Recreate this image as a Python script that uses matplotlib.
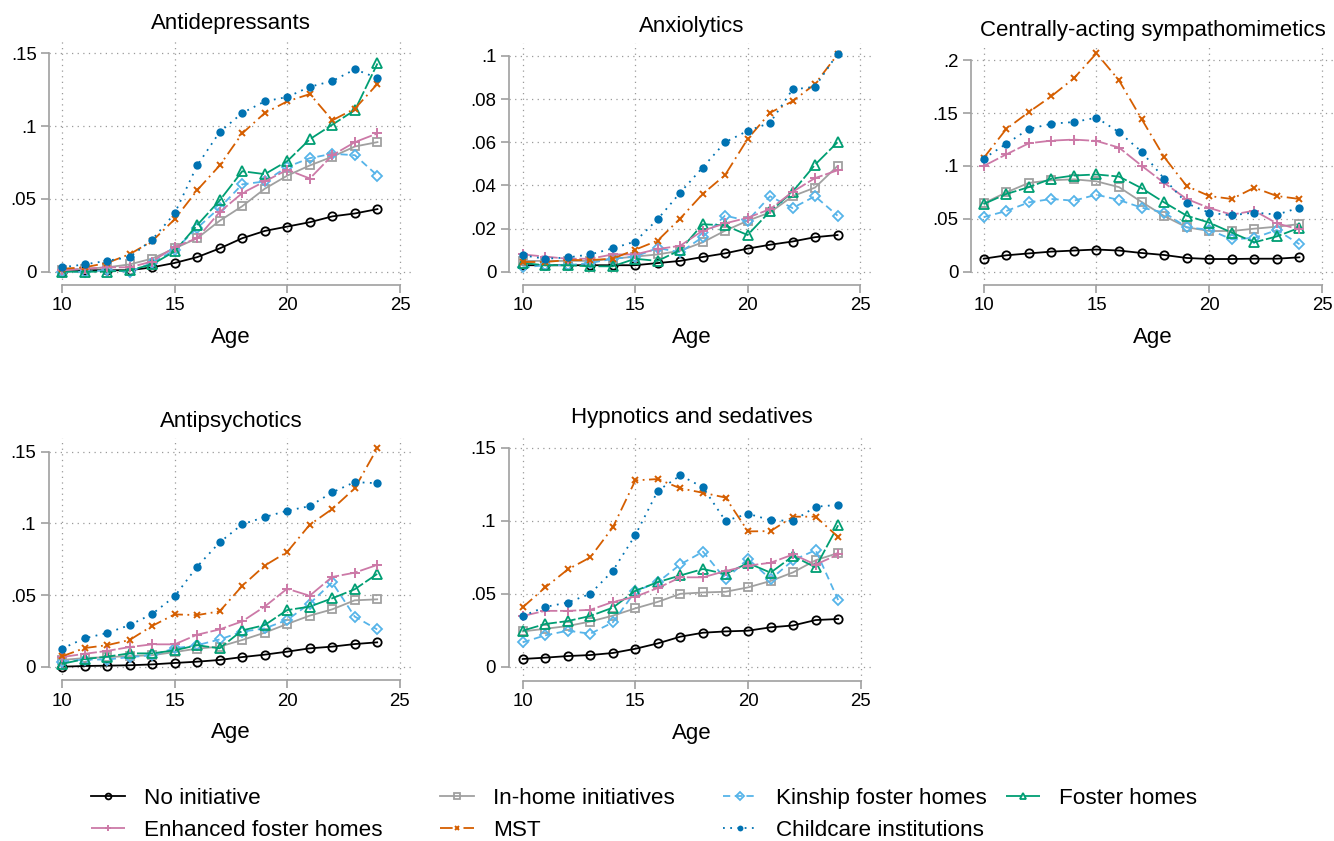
import matplotlib
matplotlib.use("Agg")
import matplotlib.pyplot as plt
from matplotlib.lines import Line2D

plt.rcParams['font.family'] = ['Liberation Sans', 'DejaVu Sans']

ages = [10, 11, 12, 13, 14, 15, 16, 17, 18, 19, 20, 21, 22, 23, 24]

groups = ["No initiative", "In-home initiatives", "Kinship foster homes", "Foster homes",
          "Enhanced foster homes", "MST", "Childcare institutions"]

# Antidepressants
ad_none = [0.000, 0.001, 0.001, 0.001, 0.003, 0.006, 0.010, 0.016, 0.023, 0.028, 0.031, 0.034, 0.038, 0.040, 0.043]
ad_inhome = [0.001, 0.002, 0.003, 0.005, 0.009, 0.016, 0.023, 0.035, 0.045, 0.057, 0.066, 0.073, 0.079, 0.086, 0.089]
ad_kinship = [0.000, 0.000, 0.001, 0.000, 0.006, 0.015, 0.030, 0.044, 0.060, 0.062, 0.072, 0.078, 0.081, 0.080, 0.066]
ad_foster = [0.000, 0.000, 0.000, 0.001, 0.005, 0.014, 0.032, 0.049, 0.069, 0.067, 0.076, 0.091, 0.101, 0.111, 0.143]
ad_enhanced = [0.001, 0.002, 0.003, 0.003, 0.007, 0.017, 0.023, 0.041, 0.054, 0.062, 0.070, 0.064, 0.080, 0.089, 0.095]
ad_mst = [0.002, 0.003, 0.006, 0.012, 0.021, 0.036, 0.056, 0.073, 0.095, 0.109, 0.117, 0.122, 0.104, 0.112, 0.129]
ad_childcare = [0.003, 0.005, 0.0075, 0.010, 0.022, 0.040, 0.073, 0.096, 0.109, 0.117, 0.120, 0.127, 0.131, 0.139, 0.133]

# Anxiolytics
ax_none = [0.003, 0.003, 0.003, 0.003, 0.003, 0.003, 0.004, 0.005, 0.0068, 0.0085, 0.0107, 0.0125, 0.014, 0.016, 0.017]
ax_inhome = [0.005, 0.005, 0.005, 0.005, 0.006, 0.007, 0.008, 0.0097, 0.0136, 0.019, 0.0236, 0.0275, 0.035, 0.039, 0.049]
ax_kinship = [0.002, 0.003, 0.003, 0.004, 0.006, 0.007, 0.011, 0.009, 0.016, 0.026, 0.0236, 0.035, 0.0295, 0.035, 0.026]
ax_foster = [0.004, 0.003, 0.003, 0.0025, 0.0025, 0.006, 0.005, 0.010, 0.022, 0.0215, 0.017, 0.028, 0.037, 0.0496, 0.060]
ax_enhanced = [0.008, 0.007, 0.006, 0.006, 0.008, 0.008, 0.0105, 0.012, 0.019, 0.0224, 0.025, 0.029, 0.037, 0.0434, 0.047]
ax_mst = [0.0045, 0.0045, 0.0054, 0.0054, 0.006, 0.0102, 0.0144, 0.0246, 0.036, 0.0448, 0.0615, 0.0737, 0.079, 0.087, 0.1007]
ax_childcare = [0.0076, 0.006, 0.0066, 0.008, 0.0108, 0.014, 0.0243, 0.0366, 0.0483, 0.060, 0.0653, 0.069, 0.0845, 0.0857, 0.101]

# Centrally-acting sympathomimetics
cs_none = [0.0123, 0.0155, 0.0173, 0.019, 0.020, 0.021, 0.020, 0.0177, 0.0158, 0.013, 0.012, 0.012, 0.0123, 0.0123, 0.0136]
cs_inhome = [0.0647, 0.075, 0.084, 0.0865, 0.0874, 0.0855, 0.080, 0.066, 0.0527, 0.042, 0.0385, 0.0385, 0.0407, 0.0426, 0.045]
cs_kinship = [0.0517, 0.0574, 0.0656, 0.0688, 0.0672, 0.0729, 0.0678, 0.0606, 0.056, 0.042, 0.0397, 0.0306, 0.032, 0.0394, 0.026]
cs_foster = [0.064, 0.0735, 0.080, 0.088, 0.091, 0.092, 0.090, 0.079, 0.0656, 0.053, 0.0464, 0.037, 0.0278, 0.0334, 0.0416]
cs_enhanced = [0.100, 0.111, 0.1215, 0.124, 0.125, 0.1237, 0.1174, 0.1003, 0.084, 0.0688, 0.0603, 0.054, 0.0577, 0.0457, 0.040]
cs_mst = [0.1076, 0.135, 0.151, 0.166, 0.183, 0.2066, 0.181, 0.1445, 0.1085, 0.081, 0.0716, 0.0688, 0.0795, 0.0716, 0.0688]
cs_childcare = [0.107, 0.121, 0.135, 0.140, 0.1416, 0.1457, 0.132, 0.1136, 0.088, 0.0647, 0.0558, 0.0533, 0.056, 0.054, 0.0606]

# Antipsychotics
ap_none = [0.000, 0.0005, 0.0007, 0.001, 0.0016, 0.0026, 0.0035, 0.0047, 0.0067, 0.0084, 0.0105, 0.0128, 0.014, 0.0158, 0.017]
ap_inhome = [0.0047, 0.006, 0.0067, 0.0074, 0.008, 0.0102, 0.0126, 0.014, 0.0186, 0.0237, 0.0298, 0.0356, 0.040, 0.0463, 0.047]
ap_kinship = [0.0035, 0.005, 0.005, 0.0067, 0.008, 0.0128, 0.015, 0.019, 0.0244, 0.0267, 0.0326, 0.044, 0.0588, 0.035, 0.026]
ap_foster = [0.002, 0.0053, 0.007, 0.0093, 0.0093, 0.0114, 0.015, 0.0128, 0.0253, 0.029, 0.0395, 0.0419, 0.0477, 0.054, 0.0647]
ap_enhanced = [0.0067, 0.009, 0.011, 0.0137, 0.0156, 0.0156, 0.0223, 0.026, 0.0316, 0.0419, 0.0544, 0.0495, 0.0626, 0.0656, 0.071]
ap_mst = [0.0072, 0.013, 0.015, 0.0186, 0.0284, 0.0365, 0.036, 0.0386, 0.0563, 0.0705, 0.080, 0.099, 0.110, 0.1244, 0.1523]
ap_childcare = [0.0126, 0.0198, 0.0235, 0.029, 0.0367, 0.049, 0.0698, 0.0867, 0.0993, 0.1044, 0.1088, 0.112, 0.1216, 0.1288, 0.128]

# Hypnotics and sedatives
hs_none = [0.0053, 0.0062, 0.0073, 0.008, 0.0094, 0.0123, 0.016, 0.0206, 0.0233, 0.0242, 0.0247, 0.027, 0.0283, 0.032, 0.0327]
hs_inhome = [0.0242, 0.026, 0.0279, 0.031, 0.035, 0.040, 0.0445, 0.050, 0.0509, 0.0514, 0.0544, 0.0588, 0.0647, 0.073, 0.078]
hs_kinship = [0.0167, 0.0215, 0.0247, 0.0226, 0.0304, 0.0517, 0.058, 0.0702, 0.0789, 0.060, 0.074, 0.060, 0.073, 0.080, 0.0457]
hs_foster = [0.0247, 0.0293, 0.0313, 0.0348, 0.0405, 0.0521, 0.058, 0.0626, 0.067, 0.0636, 0.0711, 0.0645, 0.0759, 0.0681, 0.097]
hs_enhanced = [0.0348, 0.0383, 0.0383, 0.039, 0.0444, 0.048, 0.054, 0.0613, 0.0613, 0.0656, 0.0693, 0.0713, 0.077, 0.070, 0.077]
hs_mst = [0.0407, 0.0544, 0.0667, 0.075, 0.0956, 0.1278, 0.1287, 0.1223, 0.1193, 0.116, 0.0928, 0.093, 0.1029, 0.1029, 0.089]
hs_childcare = [0.0348, 0.041, 0.044, 0.050, 0.0658, 0.0903, 0.1207, 0.1312, 0.123, 0.100, 0.1049, 0.1005, 0.100, 0.1097, 0.111]

titles = ["Antidepressants", "Anxiolytics", "Centrally-acting sympathomimetics",
          "Antipsychotics", "Hypnotics and sedatives"]
yticks_list = [[0, 0.05, 0.1, 0.15], [0, 0.02, 0.04, 0.06, 0.08, 0.1],
               [0, 0.05, 0.1, 0.15, 0.2], [0, 0.05, 0.1, 0.15], [0, 0.05, 0.1, 0.15]]
ytick_labels = [["0", ".05", ".1", ".15"], ["0", ".02", ".04", ".06", ".08", ".1"],
                ["0", ".05", ".1", ".15", ".2"], ["0", ".05", ".1", ".15"], ["0", ".05", ".1", ".15"]]

panel_data = [
    [ad_none, ad_inhome, ad_kinship, ad_foster, ad_enhanced, ad_mst, ad_childcare],
    [ax_none, ax_inhome, ax_kinship, ax_foster, ax_enhanced, ax_mst, ax_childcare],
    [cs_none, cs_inhome, cs_kinship, cs_foster, cs_enhanced, cs_mst, cs_childcare],
    [ap_none, ap_inhome, ap_kinship, ap_foster, ap_enhanced, ap_mst, ap_childcare],
    [hs_none, hs_inhome, hs_kinship, hs_foster, hs_enhanced, hs_mst, hs_childcare],
]

# line / marker look for each group
styles = [
    dict(color="black", ls="-", marker="o", ms=6, mfc="none", mew=1.3),
    dict(color="#A0A0A0", ls="-", marker="s", ms=6, mfc="none", mew=1.3),
    dict(color="#56B4E9", ls=(0, (4, 2.5)), marker="D", ms=5.5, mfc="none", mew=1.3),
    dict(color="#009E73", ls=(0, (9, 1.5)), marker="^", ms=7, mfc="none", mew=1.3),
    dict(color="#CC79A7", ls=(0, (9, 1.5)), marker="+", ms=7, mew=1.4),
    dict(color="#D55E00", ls=(0, (7, 2.5, 1, 2.5)), marker="x", ms=4.5, mew=1.4),
    dict(color="#0072B2", ls=(0, (1, 3)), marker="o", ms=6, mew=0),
]

W, H = 1334, 841
fig = plt.figure(figsize=(W / 100, H / 100), dpi=100)

# pixel layout of each panel: y-spine x, x of age 10, x of age 25, x-spine y, y of 0, y of top tick
layout = [
    (49, 62, 400, 285, 271.7, 53.3),
    (509, 522.7, 860, 285, 271.7, 56),
    (971, 983.7, 1322, 285, 271.7, 60.3),
    (48.5, 62, 399.7, 680, 666.7, 451.7),
    (508.5, 522.7, 860.7, 680.5, 666.7, 448),
]

gray = "#A0A0A0"
for k in range(5):
    x_sp, x10, x25, y_sp, y0, ytop = layout[k]
    ymax = yticks_list[k][-1]
    gx = x10 - x_sp
    gy = y_sp - y0
    left, right = x_sp, x25 + gx
    bottom, top = y_sp, ytop - gy
    ax = fig.add_axes([left / W, 1 - bottom / H, (right - left) / W, (bottom - top) / H])
    xpad = gx / (x25 - x10) * 15
    ypad = gy / (y0 - ytop) * ymax
    ax.set_xlim(10 - xpad, 25 + xpad)
    ax.set_ylim(-ypad, ymax + ypad)

    for series, st in zip(panel_data[k], styles):
        ax.plot(ages, series, lw=1.3, **st)

    ax.set_xticks([10, 15, 20, 25])
    ax.set_yticks(yticks_list[k])
    ax.set_yticklabels(ytick_labels[k])
    ax.grid(True, ls=(0, (1, 3.5)), color="#9a9a9a", lw=0.9)
    ax.set_axisbelow(True)
    for s in ["top", "right"]:
        ax.spines[s].set_visible(False)
    ax.spines["left"].set_bounds(0, ymax)
    ax.spines["bottom"].set_bounds(10, 25)
    ax.spines["left"].set_color(gray)
    ax.spines["bottom"].set_color(gray)
    ax.spines["left"].set_linewidth(1.2)
    ax.spines["bottom"].set_linewidth(1.2)
    ax.tick_params(colors=gray, labelcolor="black", length=6, width=1.2, labelsize=13.4, pad=3)
    ax.set_title(titles[k], fontsize=16, pad=8)
    ax.set_xlabel("Age", fontsize=16, labelpad=9)

# legend, one block per column (smaller markers, as in the original)
handles = []
for st in styles:
    hs = dict(st)
    hs["ms"] = st["ms"] * 0.7
    handles.append(Line2D([], [], lw=1.3, **hs))
columns = [[0, 4], [1, 5], [2, 6], [3]]
col_x = [82, 431, 714, 997]
for c in range(4):
    idx = columns[c]
    fig.legend([handles[i] for i in idx], [groups[i] for i in idx],
               loc="upper left", bbox_to_anchor=(col_x[c] / W, 1 - 779 / H),
               frameon=False, fontsize=16.2, handlelength=1.5, handletextpad=0.85,
               labelspacing=0.5, borderaxespad=0, numpoints=1)

fig.savefig("out.png", dpi=100)
